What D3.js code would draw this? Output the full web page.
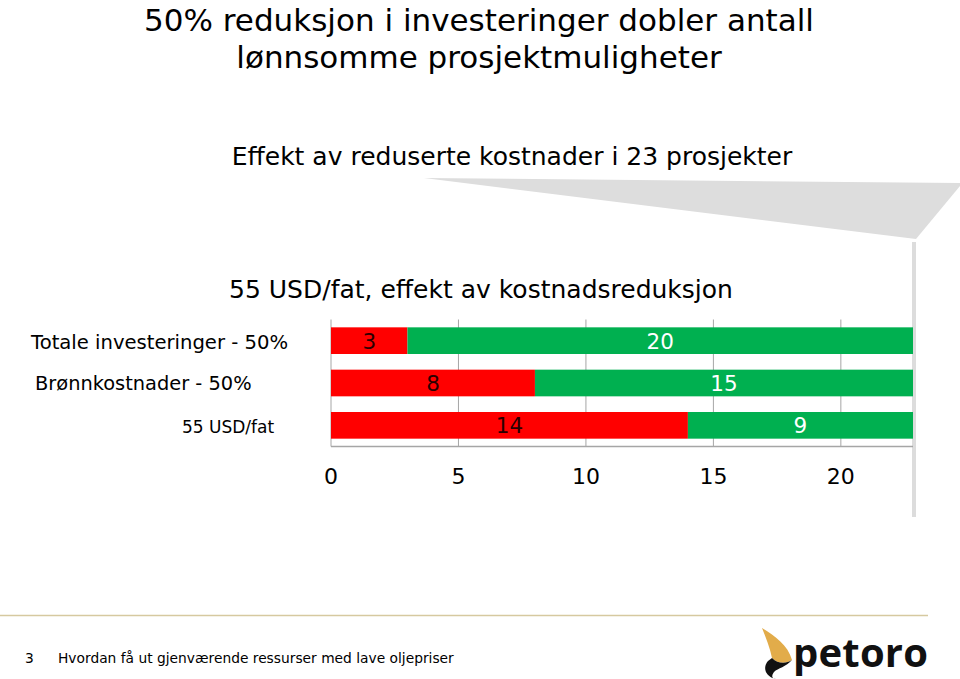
<!DOCTYPE html>
<html><head><meta charset="utf-8">
<script src="https://cdn.jsdelivr.net/npm/d3@7/dist/d3.min.js"></script>
<style>
html,body{margin:0;padding:0;background:#fff;}
svg{display:block;font-family:Verdana,"DejaVu Sans",sans-serif;}
</style></head><body>
<svg id="c" width="960" height="679"></svg>
<script>
const categories = ["Totale investeringer - 50%", "Brønnkostnader - 50%", "55 USD/fat"];
const redValues = [3, 8, 14];
const greenValues = [20, 15, 9];
const tickValues = [0, 5, 10, 15, 20];
const titleLines = ["50% reduksjon i investeringer dobler antall", "lønnsomme prosjektmuligheter"];
const subtitle = "Effekt av reduserte kostnader i 23 prosjekter";
const chartTitle = "55 USD/fat, effekt av kostnadsreduksjon";
const footerNumber = "3";
const footerText = "Hvordan få ut gjenværende ressurser med lave oljepriser";

const svg = d3.select("#c");
const RED = "#ff0000", GREEN = "#00b050";

// titles
svg.selectAll("text.title").data(titleLines).enter().append("text")
  .attr("x", 479).attr("y", (d,i)=>31 + i*37)
  .attr("text-anchor","middle").attr("font-size", 31).attr("fill","#000").text(d=>d);

svg.append("text").attr("x", 512).attr("y", 165).attr("text-anchor","middle")
  .attr("font-size", 25).attr("fill","#000").text(subtitle);

// gray wedge + vertical line
svg.append("path").attr("d","M424,178 L960,183 L960,186 L916,239 Z").attr("fill","#dddddd");
svg.append("line").attr("x1",914).attr("x2",914).attr("y1",242).attr("y2",517)
  .attr("stroke","#dcdcdc").attr("stroke-width",4);

svg.append("text").attr("x", 481).attr("y", 298).attr("text-anchor","middle")
  .attr("font-size", 25).attr("fill","#000").text(chartTitle);

// chart
const x0 = 331, x1 = 913;
const axisMax = 22.83;
const x = d3.scaleLinear().domain([0, axisMax]).range([x0, x1]);
const y = d3.scaleBand().domain(categories).range([319.5, 446.5]).paddingInner(0.37).paddingOuter(0.185);

const rows = categories.map((c,i)=>({cat:c, red:redValues[i], green:greenValues[i]}));

svg.append("defs").append("clipPath").attr("id","plot")
  .append("rect").attr("x",x0).attr("y",300).attr("width",x1-x0).attr("height",160);

// gridlines
const g = svg.append("g");
g.selectAll("line.grid").data(tickValues).enter().append("line")
  .attr("x1",d=>x(d)).attr("x2",d=>x(d)).attr("y1",319.5).attr("y2",446.5)
  .attr("stroke","#a6a6a6").attr("stroke-width",1);

const bars = svg.append("g").attr("clip-path","url(#plot)");
bars.selectAll("rect.red").data(rows).enter().append("rect")
  .attr("x", x(0)).attr("y", d=>y(d.cat)).attr("width", d=>x(d.red)-x(0))
  .attr("height", y.bandwidth()).attr("fill", RED);
bars.selectAll("rect.green").data(rows).enter().append("rect")
  .attr("x", d=>x(d.red)).attr("y", d=>y(d.cat)).attr("width", d=>x(d.red+d.green)-x(d.red))
  .attr("height", y.bandwidth()).attr("fill", GREEN);

// axis line
svg.append("line").attr("x1",x0).attr("x2",x1).attr("y1",446.5).attr("y2",446.5)
  .attr("stroke","#a6a6a6").attr("stroke-width",1.5);

// bar labels centered in visible segments
const lbl = svg.append("g").attr("font-size",21.5);
lbl.selectAll("text.r").data(rows).enter().append("text")
  .attr("x", d=>(x(0)+x(d.red))/2).attr("y", d=>y(d.cat)+y.bandwidth()/2+8)
  .attr("text-anchor","middle").attr("fill","#2a0000").text(d=>d.red);
lbl.selectAll("text.g").data(rows).enter().append("text")
  .attr("x", d=>(x(d.red)+Math.min(x1, x(d.red+d.green)))/2).attr("y", d=>y(d.cat)+y.bandwidth()/2+8)
  .attr("text-anchor","middle").attr("fill","#ffffff").text(d=>d.green);

// x tick labels
svg.append("g").selectAll("text").data(tickValues).enter().append("text")
  .attr("x", d=>x(d)).attr("y", 484).attr("text-anchor","middle")
  .attr("font-size",22).attr("fill","#000").text(d=>d);

// category labels (individually placed as in the reference)
const catLayout = [{x:31, size:19.6, dy:8}, {x:35, size:19.4, dy:7}, {x:182, size:17, dy:8}];
svg.append("g").selectAll("text").data(rows).enter().append("text")
  .attr("x", (d,i)=>catLayout[i].x)
  .attr("y", (d,i)=>y(d.cat)+y.bandwidth()/2+catLayout[i].dy)
  .attr("font-size", (d,i)=>catLayout[i].size).attr("fill","#000").text(d=>d.cat);

// footer
svg.append("line").attr("x1",0).attr("x2",928).attr("y1",615.5).attr("y2",615.5)
  .attr("stroke","#d6c9a0").attr("stroke-width",1.5);
svg.append("text").attr("x",25).attr("y",663).attr("font-size",13.8).attr("fill","#000").text(footerNumber);
svg.append("text").attr("x",58).attr("y",663).attr("font-size",13.8).attr("fill","#000").text(footerText);

// logo
const logo = svg.append("g");
logo.append("path").attr("d","M762,628 C775,636 788,645 792,660 C786,664 778,664 772,658 C770,648 766,638 762,628 Z")
  .attr("fill","#e2ac4a");
logo.append("path").attr("d","M772,658 C778,664 786,664 792,660 C786,667 778,668 774,672 C771,676 772,679 776,679 C766,677 762,668 768,661 Z")
  .attr("fill","#111");
logo.append("text").attr("x",793).attr("y",667).attr("font-family","'Open Sans','DejaVu Sans',sans-serif")
  .attr("font-weight","bold").attr("font-size",40).attr("fill","#111").attr("textLength",135).text("petoro");
</script>
</body></html>
